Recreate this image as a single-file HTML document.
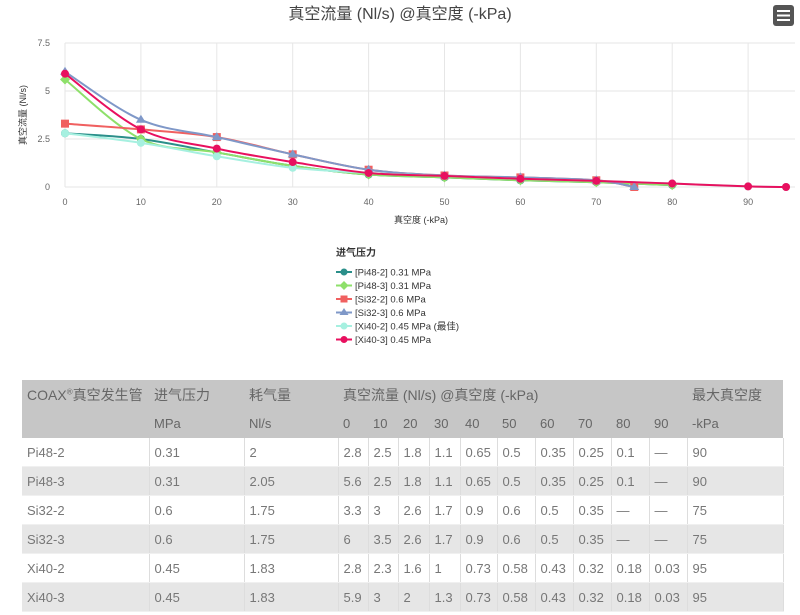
<!DOCTYPE html>
<html><head><meta charset="utf-8"><style>
body{margin:0;width:800px;height:615px;background:#fff;font-family:"Liberation Sans","Noto Sans CJK SC",sans-serif;overflow:hidden;position:relative}
table{position:absolute;left:22px;top:380px;border-collapse:collapse;font-size:13px;color:#777;table-layout:fixed}
td{padding:0 0 0 5px;height:28px;border-right:1px solid #ddd;white-space:nowrap}
tr.h td{background:#c6c6c6;color:#666;border-right:none;font-size:14px}
tr.h2 td{font-size:13px}
tr.g td{background:#e6e6e6}
tr:not(.h) td{border-bottom:1px solid #f0f0f0}
</style></head><body>
<svg id="c" width="800" height="375" style="position:absolute;left:0;top:0" font-family="Liberation Sans, Noto Sans CJK SC, sans-serif"></svg>
<table>
<colgroup><col style="width:127px"><col style="width:95px"><col style="width:94px"><col style="width:30px"><col style="width:30px"><col style="width:31px"><col style="width:31px"><col style="width:37px"><col style="width:38px"><col style="width:38px"><col style="width:38px"><col style="width:38px"><col style="width:38px"><col style="width:96px"></colgroup>
<tr class="h"><td style="height:29px">COAX<sup style="font-size:8px">®</sup>真空发生管</td><td>进气压力</td><td>耗气量</td><td colspan="10">真空流量 (Nl/s) @真空度 (-kPa)</td><td>最大真空度</td></tr>
<tr class="h h2"><td style="height:29px"></td><td>MPa</td><td>Nl/s</td><td>0</td><td>10</td><td>20</td><td>30</td><td>40</td><td>50</td><td>60</td><td>70</td><td>80</td><td>90</td><td>-kPa</td></tr>
<tr><td>Pi48-2</td><td>0.31</td><td>2</td><td>2.8</td><td>2.5</td><td>1.8</td><td>1.1</td><td>0.65</td><td>0.5</td><td>0.35</td><td>0.25</td><td>0.1</td><td>—</td><td>90</td></tr>
<tr class="g"><td>Pi48-3</td><td>0.31</td><td>2.05</td><td>5.6</td><td>2.5</td><td>1.8</td><td>1.1</td><td>0.65</td><td>0.5</td><td>0.35</td><td>0.25</td><td>0.1</td><td>—</td><td>90</td></tr>
<tr><td>Si32-2</td><td>0.6</td><td>1.75</td><td>3.3</td><td>3</td><td>2.6</td><td>1.7</td><td>0.9</td><td>0.6</td><td>0.5</td><td>0.35</td><td>—</td><td>—</td><td>75</td></tr>
<tr class="g"><td>Si32-3</td><td>0.6</td><td>1.75</td><td>6</td><td>3.5</td><td>2.6</td><td>1.7</td><td>0.9</td><td>0.6</td><td>0.5</td><td>0.35</td><td>—</td><td>—</td><td>75</td></tr>
<tr><td>Xi40-2</td><td>0.45</td><td>1.83</td><td>2.8</td><td>2.3</td><td>1.6</td><td>1</td><td>0.73</td><td>0.58</td><td>0.43</td><td>0.32</td><td>0.18</td><td>0.03</td><td>95</td></tr>
<tr class="g"><td>Xi40-3</td><td>0.45</td><td>1.83</td><td>5.9</td><td>3</td><td>2</td><td>1.3</td><td>0.73</td><td>0.58</td><td>0.43</td><td>0.32</td><td>0.18</td><td>0.03</td><td>95</td></tr>
</table>
<script>
var s=document.getElementById('c'),h='';
function X(v){return 65+v*7.59}function Y(v){return 187-v*19.2}
for(var i=0;i<=9;i++)h+='<line x1="'+X(i*10)+'" y1="43" x2="'+X(i*10)+'" y2="187" stroke="#e6e6e6"/>';
[0,2.5,5,7.5].forEach(function(v){h+='<line x1="65" y1="'+Y(v)+'" x2="795" y2="'+Y(v)+'" stroke="#e6e6e6"/><text x="50" y="'+(Y(v)+3)+'" font-size="9" fill="#666" text-anchor="end">'+v+'</text>'});
for(var i=0;i<=9;i++)h+='<text x="'+X(i*10)+'" y="205" font-size="9" fill="#666" text-anchor="middle">'+i*10+'</text>';
h+='<text x="400" y="19" font-size="16" fill="#444" text-anchor="middle">真空流量 (Nl/s) @真空度 (-kPa)</text>';
h+='<text x="421" y="223" font-size="9" fill="#333" text-anchor="middle">真空度 (-kPa)</text>';
h+='<text transform="translate(26,115) rotate(-90)" font-size="9" fill="#333" text-anchor="middle">真空流量 (Nl/s)</text>';
h+='<rect x="773" y="5" width="21" height="21" rx="3" fill="#555"/><path d="M777 11h13M777 15.5h13M777 20h13" stroke="#fff" stroke-width="2"/>';
var S=[
['#2b8f8a','c',[2.8,2.5,1.8,1.1,0.65,0.5,0.35,0.25,0.1],[]],
['#8ee06a','d',[5.6,2.5,1.8,1.1,0.65,0.5,0.35,0.25,0.1],[]],
['#f06060','s',[3.3,3,2.6,1.7,0.9,0.6,0.5,0.35],[[75,0]]],
['#7f98c8','t',[6,3.5,2.6,1.7,0.9,0.6,0.5,0.35],[[75,0]]],
['#a6f0e0','c',[2.8,2.3,1.6,1,0.73,0.58,0.43,0.32,0.18,0.03],[[95,0]]],
['#e8105f','c',[5.9,3,2,1.3,0.73,0.58,0.43,0.32,0.18,0.03],[[95,0]]]];
function mk(t,x,y,c,r){if(t=='c')return '<circle cx="'+x+'" cy="'+y+'" r="'+r+'" fill="'+c+'"/>';
if(t=='s')return '<rect x="'+(x-r)+'" y="'+(y-r)+'" width="'+2*r+'" height="'+2*r+'" fill="'+c+'"/>';
if(t=='d')return '<path d="M'+x+' '+(y-r-1)+'l'+(r+1)+' '+(r+1)+'l-'+(r+1)+' '+(r+1)+'l-'+(r+1)+' -'+(r+1)+'z" fill="'+c+'"/>';
return '<path d="M'+x+' '+(y-r-1)+'l'+(r+1)+' '+(2*r)+'h-'+(2*r+2)+'z" fill="'+c+'"/>';}
S.forEach(function(q){var p=q[2].map(function(v,i){return [X(i*10),Y(v)]});q[3].forEach(function(a){p.push([X(a[0]),Y(a[1])])});
var d='M'+p[0];for(var i=0;i<p.length-1;i++){var a=p[i-1]||p[i],b=p[i],c=p[i+1],e=p[i+2]||c;
d+='C'+(b[0]+(c[0]-a[0])/6)+','+(b[1]+(c[1]-a[1])/6)+' '+(c[0]-(e[0]-b[0])/6)+','+(c[1]-(e[1]-b[1])/6)+' '+c[0]+','+c[1];}
h+='<path d="'+d+'" fill="none" stroke="'+q[0]+'" stroke-width="2"/>';p.forEach(function(pt){h+=mk(q[1],pt[0],pt[1],q[0],4)})});
h+='<text x="336" y="256" font-size="10" font-weight="bold" fill="#333">进气压力</text>';
var L=['[Pi48-2] 0.31 MPa','[Pi48-3] 0.31 MPa','[Si32-2] 0.6 MPa','[Si32-3] 0.6 MPa','[Xi40-2] 0.45 MPa (最佳)','[Xi40-3] 0.45 MPa'];
L.forEach(function(t,i){var y=272+i*13.5;h+='<line x1="336" y1="'+y+'" x2="352" y2="'+y+'" stroke="'+S[i][0]+'" stroke-width="2"/>'+mk(S[i][1],344,y,S[i][0],3.5)+'<text x="355" y="'+(y+3.5)+'" font-size="9.5" fill="#333">'+t+'</text>'});
s.innerHTML=h;
</script>
</body></html>
